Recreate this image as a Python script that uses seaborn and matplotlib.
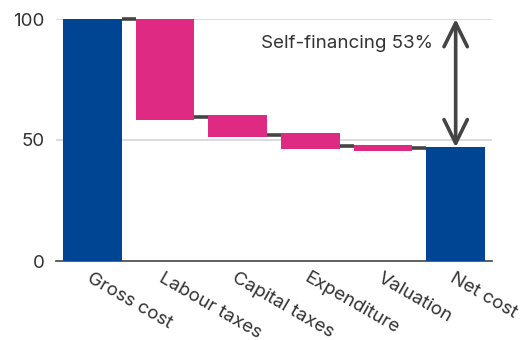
import matplotlib
matplotlib.use("Agg")
import matplotlib.pyplot as plt
import seaborn as sns
import numpy as np

categories = ["Gross cost", "Labour taxes", "Capital taxes", "Expenditure", "Valuation", "Net cost"]
bar_top = [100, 100, 60.4, 53.0, 47.9, 47.0]
bar_bottom = [0, 58.3, 51.4, 46.3, 45.6, 0]
connector_levels = [100, 59.5, 52.1, 47.4, 46.7]
annotation_text = "Self-financing 53%"
yticks = [0, 50, 100]

BLUE = "#004494"
PINK = "#DE2A82"
DARK = "#444444"

sns.set_theme(style="white")
plt.rcParams['font.family'] = ['Inter', 'DejaVu Sans']

fig = plt.figure(figsize=(5.28, 3.40), dpi=100)
ax = fig.add_axes([56/528, 1 - 261/340, (492-56)/528, (261-19)/340])

heights = [t - b for t, b in zip(bar_top, bar_bottom)]
sns.barplot(x=categories, y=heights, bottom=bar_bottom, width=0.81, ax=ax,
            color=PINK, saturation=1, linewidth=0, zorder=3)
colors = [BLUE, PINK, PINK, PINK, PINK, BLUE]
for p, c in zip(ax.patches, colors):
    p.set_facecolor(c)
    p.set_clip_on(False)

w = 0.81
for i, lvl in enumerate(connector_levels):
    ax.plot([i + w/2, i + 1 - w/2], [lvl, lvl], color=DARK, lw=2.6,
            solid_capstyle='butt', zorder=2, clip_on=False)

ax.set_xlim(-0.5, 5.5)
ax.set_ylim(0, 100)
ax.set_yticks(yticks)
ax.set_yticklabels([str(v) for v in yticks], fontsize=13.5, color="#333333")
for v in [50, 100]:
    ax.axhline(v, color="#d6d6d6", lw=1.2, zorder=0)

for s in ["top", "right", "left"]:
    ax.spines[s].set_visible(False)
ax.spines["bottom"].set_color(DARK)
ax.spines["bottom"].set_linewidth(1.2)
ax.tick_params(axis='both', length=0, pad=8)
ax.tick_params(axis='x', pad=6)
ax.set_xticks(range(len(categories)))
ax.set_xticklabels(categories, rotation=-30, ha='left', va='top',
                   rotation_mode='anchor', fontsize=13.5, color="#333333")
ax.set_xlabel("")
ax.set_ylabel("")

ax.annotate("", xy=(5, bar_top[-1]), xytext=(5, 100),
            arrowprops=dict(arrowstyle="<->,head_length=0.85,head_width=0.42",
                            color=DARK, lw=2.6, shrinkA=0, shrinkB=0,
                            mutation_scale=20),
            annotation_clip=False, zorder=5)
ax.text(4.69, 89.8, annotation_text, ha='right', va='center',
        fontsize=13.5, color="#333333")

fig.savefig("out.png", dpi=100)
